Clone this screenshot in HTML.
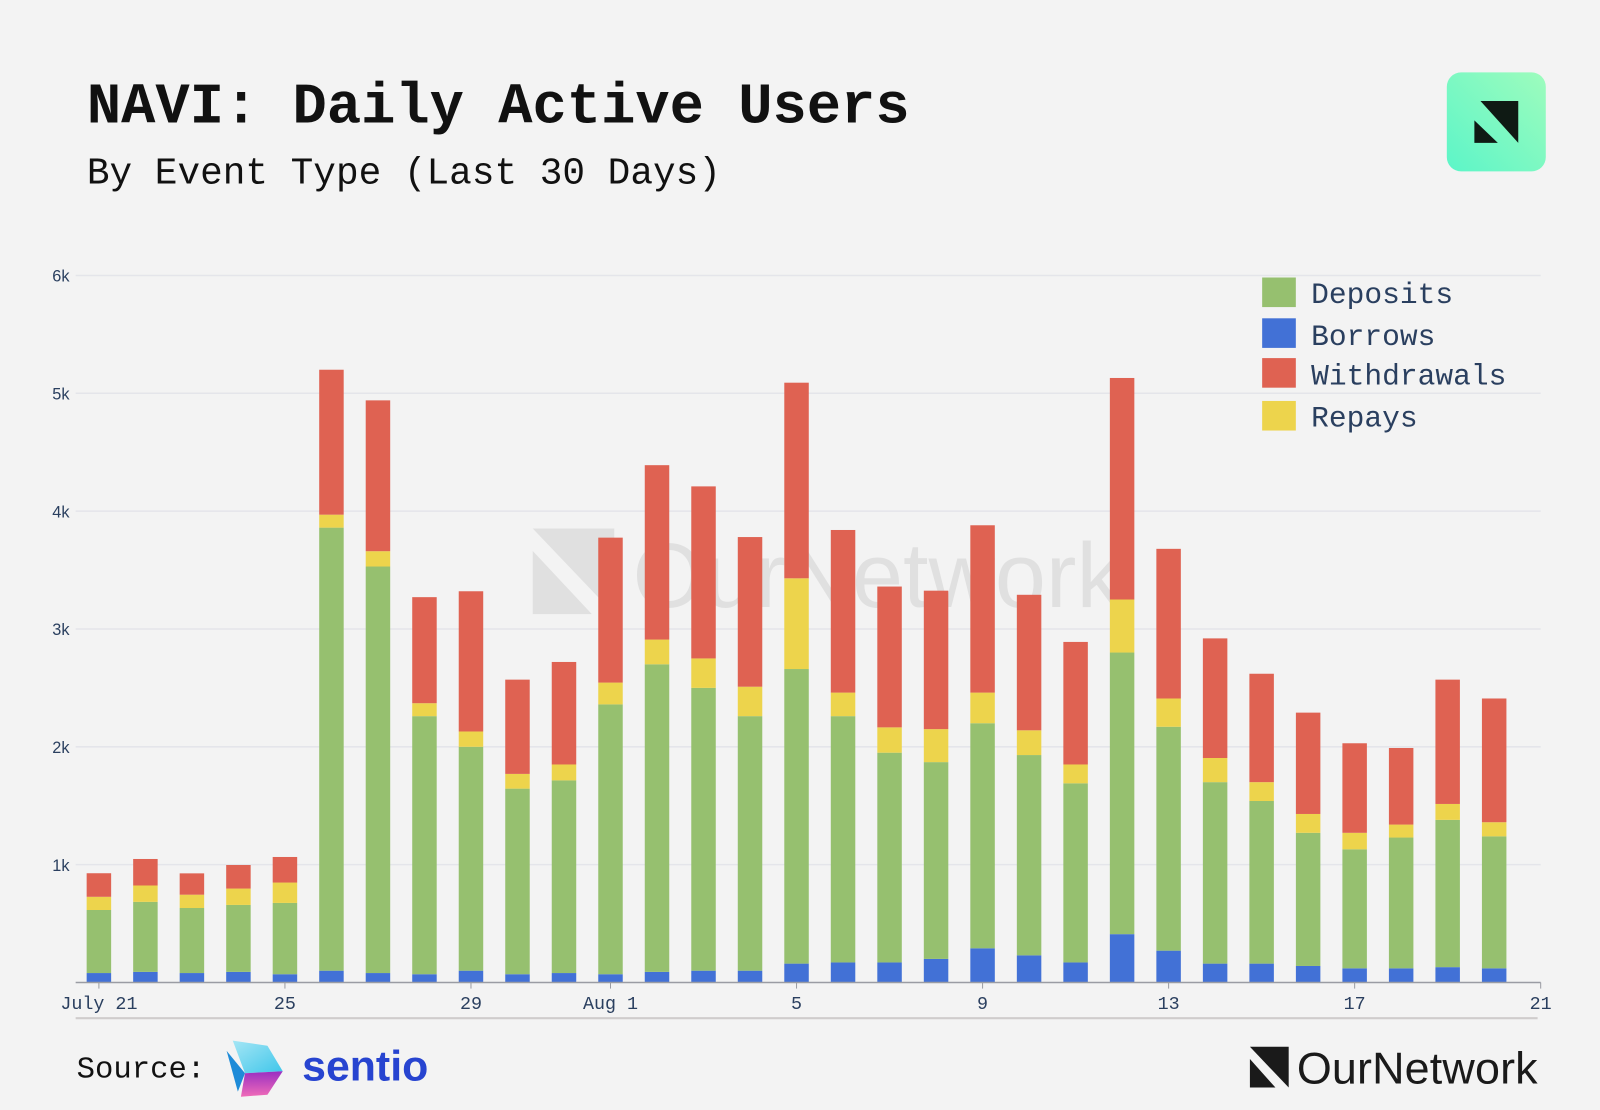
<!DOCTYPE html>
<html><head><meta charset="utf-8"><style>
html,body{margin:0;padding:0;background:#f3f3f3;}
svg{display:block;}
</style></head><body>
<svg id="chart" width="1600" height="1110" viewBox="0 0 1568 1088" xmlns="http://www.w3.org/2000/svg">
<defs>
<linearGradient id="lg" x1="0" y1="1" x2="1" y2="0"><stop offset="0" stop-color="#5cf5c8"/><stop offset="1" stop-color="#9efcbd"/></linearGradient>
<linearGradient id="sg1" x1="0" y1="0" x2="1" y2="1"><stop offset="0" stop-color="#a5e6f5"/><stop offset="1" stop-color="#3fc6ea"/></linearGradient>
<linearGradient id="sg2" x1="0" y1="0" x2="0" y2="1"><stop offset="0" stop-color="#9a2fc2"/><stop offset="1" stop-color="#f06bb8"/></linearGradient>
</defs>
<rect width="1568" height="1088" fill="#f3f3f3"/>
<text x="85" y="120" font-family="Liberation Mono, monospace" font-weight="bold" font-size="56" fill="#111">NAVI: Daily Active Users</text>
<text x="85" y="180" font-family="Liberation Mono, monospace" font-size="37" fill="#111">By Event Type (Last 30 Days)</text>
<g>
<rect x="1418" y="71" width="97" height="97" rx="14" fill="url(#lg)"/>
<polygon points="1451,99 1488,99 1488,140" fill="#0f1a14"/>
<polygon points="1445,118 1445,140 1468,140" fill="#0f1a14"/>
</g>
<g opacity="0.07">
<polygon points="522,518 602,518 602,602" fill="#000"/>
<polygon points="522,540 522,602 580,602" fill="#000"/>
<text x="620" y="595" font-family="Liberation Sans, sans-serif" font-size="90" fill="#000">OurNetwork</text>
</g>
<g id="grid"></g>
<g id="bars"></g>
<g id="axes"></g>
<g font-family="Liberation Mono, monospace" font-size="29" fill="#2a3f5f">
<g><rect x="1237" y="272" width="33" height="29" fill="#96c06f"/><text x="1285" y="297">Deposits</text></g>
<g><rect x="1237" y="312" width="33" height="29" fill="#4271d6"/><text x="1285" y="338">Borrows</text></g>
<g><rect x="1237" y="351" width="33" height="29" fill="#df6252"/><text x="1285" y="377">Withdrawals</text></g>
<g><rect x="1237" y="393" width="33" height="29" fill="#edd44c"/><text x="1285" y="418">Repays</text></g>
</g>
<line x1="74" y1="998" x2="1507" y2="998" stroke="#cfcccc" stroke-width="2"/>
<text x="75" y="1056" font-family="Liberation Mono, monospace" font-size="30" fill="#111">Source:</text>
<g>
<path d="M228,1020 L262,1025 L277,1050 L240,1052 Z" fill="url(#sg1)"/>
<path d="M222,1030 L240,1052 L233,1070 Z" fill="#1e8bd8"/>
<path d="M240,1052 L277,1050 L262,1073 L236,1075 Z" fill="url(#sg2)"/>
<text x="296" y="1059" font-family="Liberation Sans, sans-serif" font-weight="bold" font-size="42" fill="#2744d0">sentio</text>
</g>
<g>
<polygon points="1225,1026 1263,1026 1263,1066" fill="#1a1a1a"/>
<polygon points="1225,1038 1225,1066 1250,1066" fill="#1a1a1a"/>
<text x="1271" y="1062" font-family="Liberation Sans, sans-serif" font-size="44" fill="#1a1a1a" textLength="236">OurNetwork</text>
</g>
</svg>
<script>
const dates = ["Jul 21","Jul 22","Jul 23","Jul 24","Jul 25","Jul 26","Jul 27","Jul 28","Jul 29","Jul 30","Jul 31","Aug 1","Aug 2","Aug 3","Aug 4","Aug 5","Aug 6","Aug 7","Aug 8","Aug 9","Aug 10","Aug 11","Aug 12","Aug 13","Aug 14","Aug 15","Aug 16","Aug 17","Aug 18","Aug 19","Aug 20"];
const borrows = [80,90,80,90,70,100,80,70,100,70,80,70,90,100,100,160,170,170,200,290,230,170,410,270,160,160,140,120,120,130,120];
const deposits = [535,594,552,568,605,3760,3450,2190,1900,1575,1635,2290,2610,2400,2160,2500,2090,1780,1670,1910,1700,1520,2390,1900,1540,1380,1130,1010,1110,1250,1120];
const repays = [112,139,113,139,173,110,130,110,130,125,135,185,210,250,250,770,200,215,280,260,210,160,450,240,205,160,160,140,110,135,120];
const withdrawals = [200,225,181,200,217,1230,1280,900,1190,800,870,1230,1480,1460,1270,1660,1380,1195,1175,1420,1150,1040,1880,1270,1015,920,860,760,650,1055,1050];
const yTicks = [1000,2000,3000,4000,5000,6000];
const yTickLabels = ["1k","2k","3k","4k","5k","6k"];
const xTickIdx = [0,4,8,11,15,19,23,27,31];
const xTickLabels = ["July 21","25","29","Aug 1","5","9","13","17","21"];

const NS="http://www.w3.org/2000/svg";
const X0=74, X1=1510, Y0=963, YTOP=270;
function xScale(i){return X0+(i+0.5)*(X1-X0)/31.5;}
function yScale(v){return Y0-(v/6000)*(Y0-YTOP);}
function mk(tag,attrs,parent){const e=document.createElementNS(NS,tag);for(const k in attrs)e.setAttribute(k,attrs[k]);parent.appendChild(e);return e;}
const grid=document.getElementById('grid'), bars=document.getElementById('bars'), axes=document.getElementById('axes');
yTicks.forEach((t,i)=>{
  const l=mk('line',{x1:X0,x2:X1,y1:yScale(t),y2:yScale(t),stroke:'#e4e5ea','stroke-width':1.5},grid);
  
  
  const tx=mk('text',{x:68,y:yScale(t)+6,'text-anchor':'end','font-family':'Liberation Sans, sans-serif','font-size':16,fill:'#2a3f5f'},axes);
  tx.textContent=yTickLabels[i];
  
  
});
const series=[["borrows",borrows,"#4271d6"],["deposits",deposits,"#96c06f"],["repays",repays,"#edd44c"],["withdrawals",withdrawals,"#df6252"]];
const bw=24;
dates.forEach((d,i)=>{
  let base=0;
  series.forEach(([name,arr,col])=>{
    const top=base+arr[i];
    const r=mk('rect',{x:xScale(i)-bw/2,y:yScale(top),width:bw,height:yScale(base)-yScale(top),fill:col},bars);
    
    
    base=top;
  });
});
const ax=mk('line',{x1:X0,x2:X1,y1:Y0,y2:Y0,stroke:'#9a9ca3','stroke-width':1.5},axes);


xTickIdx.forEach((idx,i)=>{
  const x=xScale(idx);
  const tk=mk('line',{x1:x,x2:x,y1:Y0,y2:Y0+6,stroke:'#9a9ca3','stroke-width':1},axes);
  
  
  const tx=mk('text',{x:x,y:Y0+26,'text-anchor':'middle','font-family':'Liberation Mono, monospace','font-size':18,fill:'#2a3f5f'},axes);
  tx.textContent=xTickLabels[i];
  
  
});
</script>
</body></html>
